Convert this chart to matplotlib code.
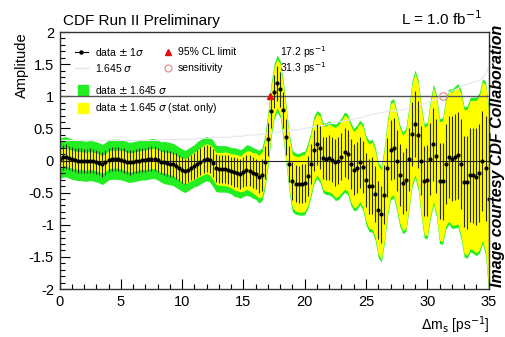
import numpy as np
import matplotlib
matplotlib.use('Agg')
import matplotlib.pyplot as plt
from matplotlib.ticker import MultipleLocator

plt.rcParams['font.family'] = ['Liberation Sans', 'DejaVu Sans']
plt.rcParams['axes.unicode_minus'] = False

# amplitude scan, one point every 0.25 ps^-1 from 0 to 35
dm = np.arange(141) * 0.25
amp = [0.03, 0.05, 0.06, 0.04,   0.02, 0.01, 0.00, 0.00,
       -0.01, -0.01, 0.00, -0.01, -0.02, -0.04, -0.06, -0.03,
       0.01, 0.02, 0.02, 0.02,   0.01, 0.00, -0.02, -0.03,
       -0.02, -0.01, 0.00, 0.01, 0.01, 0.02, 0.03, 0.03,
       0.01, -0.02, -0.03, -0.04, -0.05, -0.06, -0.09, -0.12,
       -0.15, -0.17, -0.14, -0.11, -0.08, -0.05, -0.02, 0.01,
       0.03, 0.01, -0.04, -0.12, -0.13, -0.13, -0.13, -0.14,
       -0.16, -0.18, -0.19, -0.21, -0.18, -0.15, -0.16, -0.19,
       -0.21, -0.25, -0.22, -0.03, 0.33, 0.77, 1.07, 1.20,
       1.11, 0.78, 0.37, -0.06,  -0.32, -0.36, -0.37, -0.36,
       -0.35, -0.24, -0.06, 0.16, 0.25, 0.20, 0.04, 0.03,
       0.04, 0.01, -0.03, 0.00,  0.06, 0.13, 0.10, -0.05,
       -0.14, -0.11, -0.03, -0.10, -0.31, -0.40, -0.39, -0.52,
       -0.77, -0.84, -0.53, -0.11, 0.16, 0.19, 0.00, -0.23,
       -0.35, -0.30, 0.02, 0.41,  0.57, 0.40, 0.00, -0.32,
       -0.31, 0.02, 0.25, 0.07,  -0.32, -0.32, -0.05, 0.06,
       0.03, 0.05, 0.08, -0.06,  -0.33, -0.34, -0.22, -0.23,
       -0.25, -0.19, -0.01, -0.12, -0.60]
# total 1 sigma
sig_tot = [0.19]*32 + [0.19, 0.19, 0.20, 0.20,  0.20, 0.20, 0.20, 0.20,
       0.20, 0.20, 0.20, 0.20,  0.20, 0.21, 0.21, 0.21,
       0.21, 0.21, 0.22, 0.22,  0.22, 0.22, 0.22, 0.22,
       0.22, 0.23, 0.23, 0.23,  0.23, 0.24, 0.24, 0.24,
       0.24, 0.25, 0.25, 0.25,  0.26, 0.26, 0.26, 0.27,
       0.27, 0.28, 0.28, 0.28,  0.29, 0.29, 0.29, 0.30,
       0.30, 0.31, 0.31, 0.32,  0.32, 0.33, 0.33, 0.34,
       0.35, 0.35, 0.36, 0.37,  0.37, 0.38, 0.38, 0.39,
       0.39, 0.40, 0.40, 0.41,  0.42, 0.43, 0.44, 0.44,
       0.45, 0.45, 0.46, 0.46,  0.47, 0.47, 0.47, 0.48,
       0.48, 0.49, 0.49, 0.50,  0.51, 0.52, 0.53, 0.54,
       0.55, 0.56, 0.57, 0.58,  0.59, 0.60, 0.62, 0.64,
       0.66, 0.67, 0.68, 0.70,  0.71, 0.72, 0.73, 0.74,
       0.75, 0.76, 0.78, 0.82,  0.88]
# statistical-only 1 sigma
sig_stat = [0.085]*20 + [0.09]*8 + [0.095]*4 + [0.10]*4 + [
       0.105, 0.105, 0.11, 0.11,  0.115, 0.12, 0.12, 0.125,
       0.13, 0.13, 0.135, 0.14,  0.14, 0.145, 0.15, 0.15,
       0.155, 0.155, 0.16, 0.16,  0.16, 0.17, 0.17, 0.17,
       0.18, 0.18, 0.19, 0.19,   0.20, 0.20, 0.21, 0.21,
       0.22, 0.22, 0.23, 0.23,   0.24, 0.24, 0.25, 0.25,
       0.25, 0.26, 0.26, 0.27,   0.27, 0.28, 0.28, 0.29,
       0.29, 0.30, 0.30, 0.31,   0.32, 0.32, 0.33, 0.34,
       0.34, 0.35, 0.35, 0.36,   0.36, 0.37, 0.37, 0.38,
       0.39, 0.40, 0.41, 0.41,   0.42, 0.42, 0.43, 0.43,
       0.44, 0.44, 0.44, 0.45,   0.45, 0.46, 0.46, 0.47,
       0.48, 0.49, 0.50, 0.51,   0.52, 0.53, 0.54, 0.55,
       0.56, 0.57, 0.59, 0.61,   0.63, 0.64, 0.65, 0.67,
       0.68, 0.69, 0.70, 0.71,   0.72, 0.73, 0.75, 0.79,
       0.85]

limit_dm = 17.2
sens_dm = 31.3

amp = np.array(amp)
sig_tot = np.array(sig_tot)
sig_stat = np.array(sig_stat)

fig = plt.figure(figsize=(5.06, 3.37), dpi=100)
ax = fig.add_axes([0.1176, 0.1424, 0.848, 0.7626])

ax.fill_between(dm, amp - 1.645*sig_tot, amp + 1.645*sig_tot, color='#22ee22', lw=0)
ax.fill_between(dm, amp - 1.645*sig_stat, amp + 1.645*sig_stat, color='#ffff00', lw=0)
ax.plot(dm, 1.645*sig_tot, color='#e6e8ee', lw=0.9)
ax.axhline(0, color='#222222', lw=0.8)
ax.axhline(1, color='#555555', lw=1.0)
ax.errorbar(dm, amp, yerr=sig_tot, fmt='o', ms=2.0, color='k', ecolor='#2a2a10',
            elinewidth=0.8, capsize=0)
ax.plot([limit_dm], [1.0], '^', color='#e01010', ms=4.5)
ax.plot([sens_dm], [1.0], 'o', mfc='none', mec='#e88080', ms=5.5, mew=0.8)

ax.set_xlim(0, 35)
ax.set_ylim(-2, 2)
ax.xaxis.set_major_locator(MultipleLocator(5))
ax.xaxis.set_minor_locator(MultipleLocator(1))
ax.yaxis.set_major_locator(MultipleLocator(0.5))
ax.yaxis.set_minor_locator(MultipleLocator(0.1))
ax.yaxis.set_major_formatter(plt.FuncFormatter(lambda v, p: '%g' % v))
ax.tick_params(which='both', direction='in', top=False, right=False, labelsize=10.5, width=0.8)
ax.tick_params(which='major', length=7)
ax.tick_params(which='minor', length=3.5)
ax.tick_params(axis='x', pad=4)
ax.tick_params(axis='y', pad=4)
for s in ax.spines.values():
    s.set_linewidth(1.0)
    s.set_color('#333333')

# legend drawn by hand, ROOT style
tr = ax.transAxes
fs = 7.5
ax.plot([0.036, 0.067], [0.922, 0.922], color='k', lw=0.8, transform=tr)
ax.plot([0.051], [0.922], 'o', color='k', ms=2.2, transform=tr)
ax.text(0.083, 0.922, 'data $\\pm$ 1$\\sigma$', fontsize=fs, va='center', transform=tr)
ax.plot([0.036, 0.067], [0.86, 0.86], color='#dfe2ec', lw=0.9, transform=tr)
ax.text(0.083, 0.86, '1.645 $\\sigma$', fontsize=fs, va='center', transform=tr)
ax.plot([0.253], [0.922], '^', color='#e01010', ms=4, transform=tr)
ax.text(0.276, 0.922, '95% CL limit', fontsize=fs, va='center', transform=tr)
ax.plot([0.253], [0.86], 'o', mfc='none', mec='#e88080', ms=5, mew=0.8, transform=tr)
ax.text(0.276, 0.86, 'sensitivity', fontsize=fs, va='center', transform=tr)
ax.text(0.514, 0.922, '%.1f ps$^{-1}$' % limit_dm, fontsize=fs, va='center', transform=tr)
ax.text(0.514, 0.86, '%.1f ps$^{-1}$' % sens_dm, fontsize=fs, va='center', transform=tr)
ax.add_patch(plt.Rectangle((0.043, 0.755), 0.024, 0.039, color='#22ee22', transform=tr))
ax.text(0.083, 0.774, 'data $\\pm$ 1.645 $\\sigma$', fontsize=fs, va='center', transform=tr)
ax.add_patch(plt.Rectangle((0.043, 0.685), 0.024, 0.039, color='#ffff00', transform=tr))
ax.text(0.083, 0.704, 'data $\\pm$ 1.645 $\\sigma$ (stat. only)', fontsize=fs, va='center', transform=tr)

fig.text(63/506, 1-21/337, 'CDF Run II Preliminary', fontsize=11, va='center', ha='left')
fig.text(482/506, 1-19/337, 'L = 1.0 fb$^{-1}$', fontsize=11, va='center', ha='right')
fig.text(22/506, 1-32/337, 'Amplitude', fontsize=10.5, rotation=90, ha='center', va='top')
fig.text(490/506, 1-325/337, '$\\Delta$m$_{\\rm s}$ [ps$^{-1}$]', fontsize=10, ha='right', va='center')
# credit line along the right edge
fig.text(505.5/506, 1-287/337, 'Image courtesy CDF Collaboration', fontsize=11.5, rotation=90,
         ha='right', va='bottom', style='italic', fontweight='bold')

plt.savefig('out.png', dpi=100)
